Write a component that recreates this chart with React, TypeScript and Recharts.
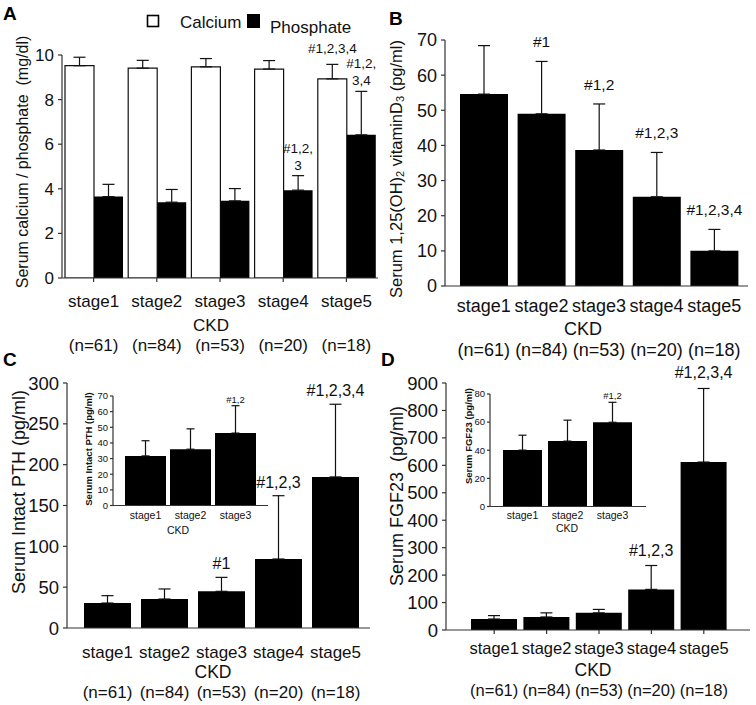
import React from "react";
import {
  Bar,
  BarChart,
  ErrorBar,
  Label,
  LabelList,
  Legend,
  XAxis,
  YAxis,
} from "recharts";

const FONT = '"Liberation Sans", Arial, Helvetica, sans-serif';
const INK = "#111";
const AXIS = { stroke: "#333", strokeWidth: 1.2 };

const stages = ["stage1", "stage2", "stage3", "stage4", "stage5"];
const nLabels = ["(n=61)", "(n=84)", "(n=53)", "(n=20)", "(n=18)"];
const insetStages = ["stage1", "stage2", "stage3"];

// A: serum calcium / phosphate (mg/dl)
const calcium = [9.52, 9.41, 9.47, 9.37, 8.93];
const calciumErr = [0.38, 0.35, 0.37, 0.38, 0.65];
const calciumSig = ["", "", "", "", "#1,2,3,4"];
const phosphate = [3.65, 3.4, 3.46, 3.94, 6.42];
const phosphateErr = [0.55, 0.57, 0.55, 0.65, 1.95];
const phosphateSig = ["", "", "", "#1,2,\n3", "#1,2,\n3,4"];

// B: 1,25(OH)2 vitamin D3 (pg/ml)
const vitD = [54.6, 49.0, 38.7, 25.4, 10.0];
const vitDErr = [13.8, 14.9, 13.1, 12.6, 6.1];
const vitDSig = ["", "#1", "#1,2", "#1,2,3", "#1,2,3,4"];

// C: intact PTH (pg/ml)
const pth = [30.6, 35.5, 44.9, 84.5, 185];
const pthErr = [9, 12.3, 17.1, 77.5, 89];
const pthSig = ["", "", "#1", "#1,2,3", "#1,2,3,4"];
const pthInset = [31.7, 36, 46.3];
const pthInsetErr = [9.7, 13, 17.5];
const pthInsetSig = ["", "", "#1,2"];

// D: FGF23 (pg/ml)
const fgf = [40, 47.5, 62.5, 148, 612];
const fgfErr = [12.5, 15, 12.5, 87, 268];
const fgfSig = ["", "", "", "#1,2,3", "#1,2,3,4"];
const fgfInset = [40.1, 46.5, 59.9];
const fgfInsetErr = [10.6, 14.9, 14.2];
const fgfInsetSig = ["", "", "#1,2"];

const ticksA = [0, 2, 4, 6, 8, 10];
const ticksB = [0, 10, 20, 30, 40, 50, 60, 70];
const ticksC = [0, 50, 100, 150, 200, 250, 300];
const ticksD = [0, 100, 200, 300, 400, 500, 600, 700, 800, 900];
const ticksCInset = [0, 10, 20, 30, 40, 50, 60, 70];
const ticksDInset = [0, 20, 40, 60, 80];

const rowsA = stages.map((s, i) => ({
  stage: s,
  ca: calcium[i],
  caErr: [0, calciumErr[i]],
  caSig: calciumSig[i],
  p: phosphate[i],
  pErr: [0, phosphateErr[i]],
  pSig: phosphateSig[i],
}));

function rows(labels: string[], values: number[], errs: number[], sigs: string[]) {
  return labels.map((s, i) => ({
    stage: s,
    value: values[i],
    err: [0, errs[i]],
    sig: sigs[i],
  }));
}

const rowsB = rows(stages, vitD, vitDErr, vitDSig);
const rowsC = rows(stages, pth, pthErr, pthSig);
const rowsCInset = rows(insetStages, pthInset, pthInsetErr, pthInsetSig);
const rowsD = rows(stages, fgf, fgfErr, fgfSig);
const rowsDInset = rows(insetStages, fgfInset, fgfInsetErr, fgfInsetSig);

// significance marks sit above the top of each error bar
function sigLabel(
  sigs: string[],
  values: number[],
  errs: number[],
  fontSize: number,
  gap: number,
  lineHeight: number
) {
  return (props: any) => {
    const vb = props.viewBox || props;
    const i = props.index;
    const text = sigs[i];
    if (!text) return null;
    const { x, y, width, height } = vb;
    const top = y - errs[i] * (height / values[i]);
    const lines = text.split("\n");
    const cx = x + width / 2;
    return (
      <text textAnchor="middle" fontSize={fontSize} fill={INK}>
        {lines.map((ln, k) => (
          <tspan key={k} x={cx} y={top - gap - (lines.length - 1 - k) * lineHeight}>
            {ln}
          </tspan>
        ))}
      </text>
    );
  };
}

function stageTick(fontSize: number, stageDy: number, nDy: number | null) {
  return (props: any) => {
    const { x, y, payload } = props;
    const i = props.index ?? payload.index ?? 0;
    return (
      <g>
        <text x={x} y={y + stageDy} textAnchor="middle" fontSize={fontSize} fill={INK}>
          {payload.value}
        </text>
        {nDy != null && (
          <text x={x} y={y + nDy} textAnchor="middle" fontSize={fontSize} fill={INK}>
            {nLabels[i]}
          </text>
        )}
      </g>
    );
  };
}

function plainText(x: number, y: number, fontSize: number, text: string) {
  return () => (
    <text x={x} y={y} textAnchor="middle" fontSize={fontSize} fill={INK}>
      {text}
    </text>
  );
}

function yTitle(
  cx: number,
  cy: number,
  fontSize: number,
  body: React.ReactNode,
  bold = false
) {
  return () => (
    <text
      transform={`translate(${cx},${cy}) rotate(-90)`}
      textAnchor="middle"
      dominantBaseline="central"
      fontSize={fontSize}
      fontWeight={bold ? "bold" : "normal"}
      fill={INK}
      style={{ whiteSpace: "pre" }}
    >
      {body}
    </text>
  );
}

function LegendA() {
  return (
    <svg width={230} height={34}>
      <rect x={7.5} y={10.5} width={11} height={11} fill="#fff" stroke="#000" strokeWidth={1.6} />
      <text x={40} y={23} fontSize={17} fill={INK}>Calcium</text>
      <rect x={107} y={9} width={13} height={14} fill="#000" />
      <text x={130} y={28} fontSize={17} fill={INK}>Phosphate</text>
    </svg>
  );
}

function PanelA() {
  return (
    <div style={{ position: "absolute", left: 0, top: 0, width: 378, height: 360, overflow: "hidden" }}>
      <BarChart width={378} height={360} data={rowsA} margin={{ top: 55, right: 0, left: 0, bottom: 0 }} barCategoryGap={3} barGap={0}>
        <XAxis dataKey="stage" height={82} interval={0} tickSize={4} tickMargin={0} axisLine={AXIS} tickLine={AXIS} tick={stageTick(17, 25, 69)}>
          <Label content={plainText(211, 331, 17, "CKD")} />
        </XAxis>
        <YAxis width={62} domain={[0, 10]} ticks={ticksA} allowDataOverflow tickSize={4} tickMargin={4} axisLine={AXIS} tickLine={AXIS} tick={{ fontSize: 17, fill: INK }}>
          <Label content={yTitle(22, 162, 16, "Serum calcium / phosphate  (mg/dl)")} />
        </YAxis>
        <Legend layout="vertical" verticalAlign="middle" align="center" wrapperStyle={{ top: 5, left: 140, width: 230 }} content={<LegendA />} />
        <Bar dataKey="ca" name="Calcium" fill="#fff" stroke="#111" strokeWidth={1.2} isAnimationActive={false}>
          <ErrorBar dataKey="caErr" width={6} stroke="#111" strokeWidth={1.2} direction="y" />
          <LabelList dataKey="caSig" content={sigLabel(calciumSig, calcium, calciumErr, 13.5, 11, 17)} />
        </Bar>
        <Bar dataKey="p" name="Phosphate" fill="#000" isAnimationActive={false}>
          <ErrorBar dataKey="pErr" width={6} stroke="#111" strokeWidth={1.2} direction="y" />
          <LabelList dataKey="pSig" content={sigLabel(phosphateSig, phosphate, phosphateErr, 13.5, 6, 17)} />
        </Bar>
      </BarChart>
    </div>
  );
}

function PanelB() {
  return (
    <div style={{ position: "absolute", left: 378, top: 0, width: 378, height: 362 }}>
      <BarChart width={378} height={362} data={rowsB} margin={{ top: 40, right: 8, left: 0, bottom: 0 }} barCategoryGap={5}>
        <XAxis dataKey="stage" height={76} interval={0} padding={{ left: 10, right: 5 }} tickSize={4} tickMargin={0} axisLine={AXIS} tickLine={false} tick={stageTick(18, 22, 66)}>
          <Label content={plainText(205, 335, 18, "CKD")} />
        </XAxis>
        <YAxis width={67} domain={[0, 70]} ticks={ticksB} allowDataOverflow tickSize={4} tickMargin={4} axisLine={AXIS} tickLine={AXIS} tick={{ fontSize: 18, fill: INK }}>
          <Label
            content={yTitle(
              18,
              169,
              16.5,
              <>
                <tspan>Serum 1,25(OH)</tspan>
                <tspan dy={4} fontSize={11}>2</tspan>
                <tspan dy={-4}> vitaminD</tspan>
                <tspan dy={4} fontSize={11}>3</tspan>
                <tspan dy={-4}> (pg/ml)</tspan>
              </>
            )}
          />
        </YAxis>
        <Bar dataKey="value" fill="#000" isAnimationActive={false}>
          <ErrorBar dataKey="err" width={6} stroke="#111" strokeWidth={1.2} direction="y" />
          <LabelList dataKey="sig" content={sigLabel(vitDSig, vitD, vitDErr, 15.5, 14, 17)} />
        </Bar>
      </BarChart>
    </div>
  );
}

function PanelC() {
  return (
    <div style={{ position: "absolute", left: 0, top: 350, width: 378, height: 355 }}>
      <BarChart width={378} height={355} data={rowsC} margin={{ top: 33, right: 8, left: 0, bottom: 0 }} barCategoryGap={5}>
        <XAxis dataKey="stage" height={77} interval={0} padding={{ left: 12, right: 6 }} tickSize={4} tickMargin={0} axisLine={AXIS} tickLine={false} tick={stageTick(17, 26, 66)}>
          <Label content={plainText(213, 328, 17.5, "CKD")} />
        </XAxis>
        <YAxis width={67} domain={[0, 300]} ticks={ticksC} allowDataOverflow tickSize={4} tickMargin={4} axisLine={AXIS} tickLine={AXIS} tick={{ fontSize: 18.5, fill: INK }}>
          <Label content={yTitle(19, 142, 18, "Serum Intact PTH (pg/ml)")} />
        </YAxis>
        <Bar dataKey="value" fill="#000" isAnimationActive={false}>
          <ErrorBar dataKey="err" width={6} stroke="#111" strokeWidth={1.2} direction="y" />
          <LabelList dataKey="sig" content={sigLabel(pthSig, pth, pthErr, 16, 8, 17)} />
        </Bar>
      </BarChart>
    </div>
  );
}

function InsetC() {
  return (
    <div style={{ position: "absolute", left: 70, top: 380, width: 205, height: 160 }}>
      <BarChart width={205} height={160} data={rowsCInset} margin={{ top: 16, right: 7, left: 0, bottom: 0 }} barCategoryGap={2}>
        <XAxis dataKey="stage" height={34.5} interval={0} padding={{ left: 10, right: 10 }} tickSize={4} tickMargin={0} axisLine={AXIS} tickLine={false} tick={stageTick(10.5, 9.5, null)}>
          <Label content={plainText(108, 153.5, 10.5, "CKD")} />
        </XAxis>
        <YAxis width={43} domain={[0, 70]} ticks={ticksCInset} allowDataOverflow tickSize={3} tickMargin={2} axisLine={AXIS} tickLine={AXIS} tick={{ fontSize: 9.5, fill: INK }}>
          <Label content={yTitle(18, 69, 9.5, "Serum Intact PTH (pg/ml)", true)} />
        </YAxis>
        <Bar dataKey="value" fill="#000" isAnimationActive={false}>
          <ErrorBar dataKey="err" width={4} stroke="#111" strokeWidth={1.2} direction="y" />
          <LabelList dataKey="sig" content={sigLabel(pthInsetSig, pthInset, pthInsetErr, 9.5, 3, 10)} />
        </Bar>
      </BarChart>
    </div>
  );
}

function PanelD() {
  return (
    <div style={{ position: "absolute", left: 378, top: 350, width: 378, height: 355 }}>
      <BarChart width={378} height={355} data={rowsD} margin={{ top: 33, right: 6, left: 0, bottom: 0 }} barCategoryGap={3}>
        <XAxis dataKey="stage" height={75} interval={0} padding={{ left: 22, right: 20 }} tickSize={4} tickMargin={0} axisLine={AXIS} tickLine={AXIS} tick={stageTick(16.5, 20, 62)}>
          <Label content={plainText(215, 326, 17.5, "CKD")} />
        </XAxis>
        <YAxis width={68} domain={[0, 900]} ticks={ticksD} allowDataOverflow tickSize={4} tickMargin={4} axisLine={AXIS} tickLine={AXIS} tick={{ fontSize: 18.5, fill: INK }}>
          <Label content={yTitle(19, 146, 18, "Serum FGF23  (pg/ml)")} />
        </YAxis>
        <Bar dataKey="value" fill="#000" isAnimationActive={false}>
          <ErrorBar dataKey="err" width={6} stroke="#111" strokeWidth={1.2} direction="y" />
          <LabelList dataKey="sig" content={sigLabel(fgfSig, fgf, fgfErr, 16, 10, 17)} />
        </Bar>
      </BarChart>
    </div>
  );
}

function InsetD() {
  return (
    <div style={{ position: "absolute", left: 445, top: 380, width: 210, height: 160 }}>
      <BarChart width={210} height={160} data={rowsDInset} margin={{ top: 14, right: 9, left: 0, bottom: 0 }} barCategoryGap={3}>
        <XAxis dataKey="stage" height={33.5} interval={0} padding={{ left: 10, right: 11 }} tickSize={4} tickMargin={0} axisLine={AXIS} tickLine={false} tick={stageTick(10.5, 8.5, null)}>
          <Label content={plainText(122, 152, 10.5, "CKD")} />
        </XAxis>
        <YAxis width={45} domain={[0, 80]} ticks={ticksDInset} allowDataOverflow tickSize={3} tickMargin={2} axisLine={AXIS} tickLine={AXIS} tick={{ fontSize: 9.5, fill: INK }}>
          <Label content={yTitle(23, 56, 9.5, "Serum FGF23 (pg/ml)", true)} />
        </YAxis>
        <Bar dataKey="value" fill="#000" isAnimationActive={false}>
          <ErrorBar dataKey="err" width={4} stroke="#111" strokeWidth={1.2} direction="y" />
          <LabelList dataKey="sig" content={sigLabel(fgfInsetSig, fgfInset, fgfInsetErr, 9.5, 3, 10)} />
        </Bar>
      </BarChart>
    </div>
  );
}

export default function App() {
  return (
    <div
      style={{
        position: "absolute",
        left: 0,
        top: 0,
        width: 756,
        height: 705,
        background: "#fff",
        fontFamily: FONT,
        color: INK,
        overflow: "hidden",
      }}
    >
      <PanelA />
      <PanelB />
      <PanelC />
      <PanelD />
      <InsetC />
      <InsetD />
      <svg width={756} height={705} style={{ position: "absolute", left: 0, top: 0, pointerEvents: "none" }}>
        <g fontSize={19} fontWeight="bold" fill="#000">
          <text x={3} y={20}>A</text>
          <text x={389} y={25}>B</text>
          <text x={3} y={366}>C</text>
          <text x={381} y={366}>D</text>
        </g>
      </svg>
    </div>
  );
}
